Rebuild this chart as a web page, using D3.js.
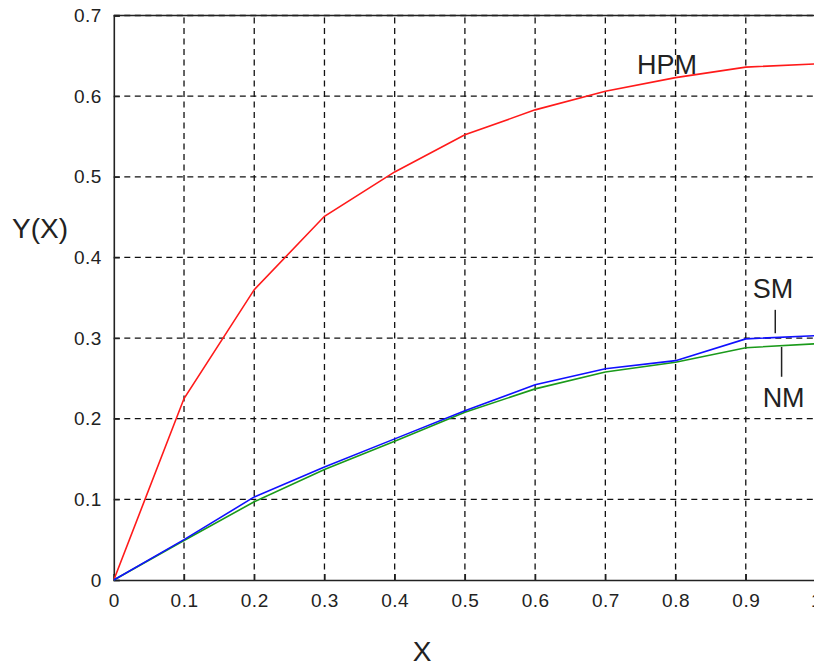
<!DOCTYPE html>
<html>
<head>
<meta charset="utf-8">
<script src="https://cdn.jsdelivr.net/npm/d3@7"></script>
<style>
  body { margin: 0; background: #fff; overflow: hidden; }
  text { font-family: "Liberation Sans", Arial, sans-serif; fill: #222; }
</style>
</head>
<body>
<div id="chart"></div>
<script>
const xs = [0, 0.1, 0.2, 0.3, 0.4, 0.5, 0.6, 0.7, 0.8, 0.9, 1.0];
const hpm = [0, 0.225, 0.36, 0.451, 0.506, 0.552, 0.583, 0.606, 0.623, 0.636, 0.640];
const sm = [0, 0.050, 0.103, 0.140, 0.175, 0.210, 0.242, 0.262, 0.272, 0.299, 0.303];
const nm = [0, 0.049, 0.097, 0.137, 0.172, 0.208, 0.237, 0.258, 0.270, 0.288, 0.293];
const xTicks = [0, 0.1, 0.2, 0.3, 0.4, 0.5, 0.6, 0.7, 0.8, 0.9, 1];
const yTicks = [0, 0.1, 0.2, 0.3, 0.4, 0.5, 0.6, 0.7];

const width = 814, height = 668;

const svg = d3.select("#chart")
  .append("svg")
  .attr("width", width)
  .attr("height", height);

const x = d3.scaleLinear().domain([0, 1]).range([113.8, 816]);
const y = d3.scaleLinear().domain([0, 0.7]).range([580, 15.5]);

// grid
const grid = svg.append("g")
  .attr("stroke", "#111")
  .attr("stroke-width", 1.3)
  .attr("stroke-dasharray", "6,4.5");
grid.selectAll("line.gx")
  .data(xTicks.slice(1))
  .join("line")
  .attr("x1", d => x(d)).attr("x2", d => x(d))
  .attr("y1", y(0)).attr("y2", y(0.7));
grid.selectAll("line.gy")
  .data(yTicks.slice(1))
  .join("line")
  .attr("class", "gy")
  .attr("x1", x(0)).attr("x2", x(1))
  .attr("y1", d => y(d)).attr("y2", d => y(d));

// axes (MATLAB-like box with inward ticks)
svg.append("g")
  .attr("transform", `translate(0,${y(0)})`)
  .call(d3.axisBottom(x).tickValues(xTicks).tickSize(-6).tickPadding(14).tickFormat(d => d3.format("")(d)))
  .call(g => g.select(".domain").attr("stroke", "#222").attr("stroke-width", 1.6))
  .call(g => g.selectAll(".tick line").attr("stroke", "#222").attr("stroke-width", 1.3))
  .call(g => g.selectAll(".tick text").attr("font-size", 19).attr("letter-spacing", 0.5).attr("fill", "#333"));

svg.append("g")
  .attr("transform", `translate(${x(0)},0)`)
  .call(d3.axisLeft(y).tickValues(yTicks).tickSize(-6).tickPadding(12).tickFormat(d => d3.format("")(d)))
  .call(g => g.select(".domain").attr("stroke", "#222").attr("stroke-width", 1.6))
  .call(g => g.selectAll(".tick line").attr("stroke", "#222").attr("stroke-width", 1.3))
  .call(g => g.selectAll(".tick text").attr("font-size", 19).attr("letter-spacing", 0.5).attr("fill", "#333"));

// top and right frame
svg.append("line")
  .attr("x1", x(0)).attr("x2", x(1))
  .attr("y1", y(0.7)).attr("y2", y(0.7))
  .attr("stroke", "#222").attr("stroke-width", 1.6);
svg.append("line")
  .attr("x1", x(1)).attr("x2", x(1))
  .attr("y1", y(0.7)).attr("y2", y(0))
  .attr("stroke", "#222").attr("stroke-width", 1.6);

// series
const line = d3.line()
  .x((d, i) => x(xs[i]))
  .y(d => y(d));

const series = [
  { name: "HPM", values: hpm, color: "#ff1a1a" },
  { name: "NM", values: nm, color: "#1a9a1a" },
  { name: "SM", values: sm, color: "#1010ff" }
];

svg.append("g")
  .selectAll("path")
  .data(series)
  .join("path")
  .attr("d", d => line(d.values))
  .attr("fill", "none")
  .attr("stroke", d => d.color)
  .attr("stroke-width", 1.6);

// annotations
svg.append("text")
  .attr("x", x(0.745)).attr("y", y(0.627))
  .attr("font-size", 27)
  .text("HPM");
svg.append("text")
  .attr("x", x(0.91)).attr("y", y(0.35))
  .attr("font-size", 27)
  .text("SM");
svg.append("text")
  .attr("x", x(0.924)).attr("y", y(0.215))
  .attr("font-size", 27)
  .text("NM");
svg.append("line")
  .attr("x1", x(0.942)).attr("x2", x(0.942))
  .attr("y1", y(0.335)).attr("y2", y(0.306))
  .attr("stroke", "#222").attr("stroke-width", 1.5);
svg.append("line")
  .attr("x1", x(0.951)).attr("x2", x(0.951))
  .attr("y1", y(0.289)).attr("y2", y(0.252))
  .attr("stroke", "#222").attr("stroke-width", 1.5);

// axis titles
svg.append("text")
  .attr("x", 12).attr("y", 238)
  .attr("font-size", 28)
  .text("Y(X)");
svg.append("text")
  .attr("x", 422).attr("y", 661)
  .attr("text-anchor", "middle")
  .attr("font-size", 28)
  .text("X");
</script>
</body>
</html>
